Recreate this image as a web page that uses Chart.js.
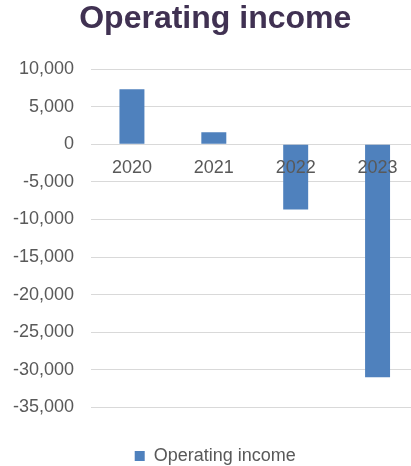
<!DOCTYPE html>
<html>
<head>
<meta charset="utf-8">
<script src="https://cdn.jsdelivr.net/npm/chart.js@4"></script>
<style>
  html, body { margin: 0; padding: 0; background: #ffffff; overflow: hidden; }
  canvas { display: block; }
</style>
</head>
<body>
<canvas id="c" width="451" height="475" style="width:451px;height:475px"></canvas>
<script>
const categories = ['2020', '2021', '2022', '2023'];
const operatingIncome = [7300, 1600, -8700, -31000];
const seriesName = 'Operating income';
const titleText = 'Operating income';
const yMin = -40000, yMax = 10000, yStep = 5000;

const fontFamily = '"Liberation Sans", Arial, sans-serif';
const textColor = '#595959';

const chart = new Chart(document.getElementById('c'), {
  type: 'bar',
  data: {
    labels: categories,
    datasets: [{
      label: seriesName,
      data: operatingIncome,
      backgroundColor: '#4f81bd',
      borderWidth: 0,
      categoryPercentage: 1.0,
      barPercentage: 0.305
    }]
  },
  options: {
    responsive: false,
    animation: false,
    layout: { padding: { left: 12, right: 32.5, top: 0, bottom: 0 } },
    plugins: {
      title: {
        display: true,
        text: titleText,
        color: '#403152',
        font: { family: fontFamily, size: 32, weight: 'bold' },
        padding: { top: 0, bottom: 30.6 }
      },
      legend: {
        display: true,
        position: 'bottom',
        labels: {
          color: textColor,
          font: { family: fontFamily, size: 18 },
          boxWidth: 10,
          boxHeight: 10,
          padding: 2
        }
      },
      tooltip: { enabled: false }
    },
    scales: {
      x: {
        position: { y: 0 },
        grid: { display: false },
        border: { display: false },
        ticks: {
          z: 1,
          color: textColor,
          font: { family: fontFamily, size: 18 },
          padding: 5,
          maxRotation: 0
        }
      },
      y: {
        min: yMin,
        max: yMax,
        afterFit: (scale) => { scale.width = 79; },
        grid: {
          color: (ctx) => (ctx.tick && ctx.tick.value === yMin) ? 'rgba(0,0,0,0)' : '#d9d9d9',
          lineWidth: 1,
          drawTicks: false
        },
        border: { display: false },
        ticks: {
          stepSize: yStep,
          color: textColor,
          font: { family: fontFamily, size: 18 },
          padding: 17,
          callback: (v) => v === yMin ? '' : v.toLocaleString('en-US')
        }
      }
    }
  }
});
</script>
</body>
</html>
